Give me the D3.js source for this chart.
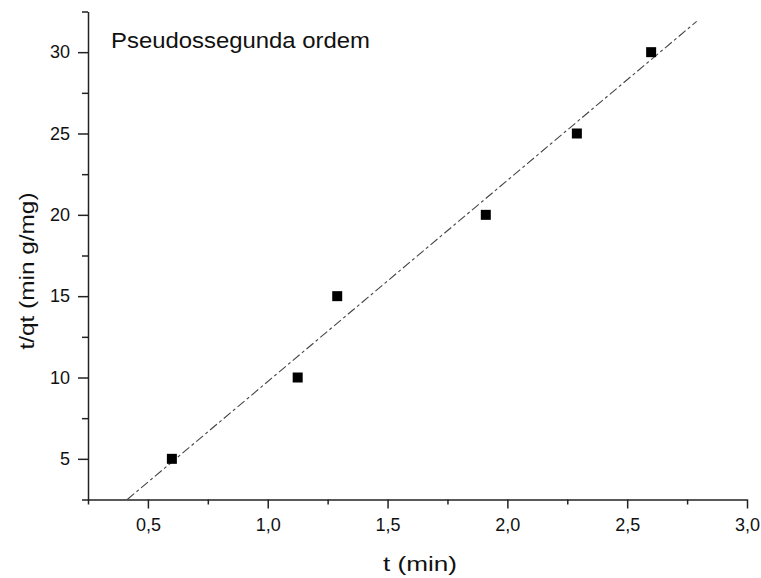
<!DOCTYPE html>
<html>
<head>
<meta charset="utf-8">
<script src="https://cdnjs.cloudflare.com/ajax/libs/d3/7.8.5/d3.min.js"></script>
<style>
  body { margin: 0; background: #fff; }
  text { font-family: "Liberation Sans", Arial, sans-serif; fill: #111; }
</style>
</head>
<body>
<div id="chart"></div>
<script>
// data
var tMin = [0.6, 1.125, 1.29, 1.91, 2.29, 2.6];
var tqt = [5, 10, 15, 20, 25, 30];
var xMajorTicks = [0.5, 1.0, 1.5, 2.0, 2.5, 3.0];
var xMinorTicks = [0.25, 0.75, 1.25, 1.75, 2.25, 2.75];
var yMajorTicks = [5, 10, 15, 20, 25, 30];
var yMinorTicks = [2.5, 7.5, 12.5, 17.5, 22.5, 27.5, 32.5];
var fitSlope = 12.37, fitIntercept = -2.62;
var fitRange = [0.414, 2.79];

// set the dimensions and margins of the graph
var margin = {top: 11.5, right: 14, bottom: 78.5, left: 88},
    width = 761 - margin.left - margin.right,
    height = 578 - margin.top - margin.bottom;

var svg = d3.select("#chart")
  .append("svg")
    .attr("width", 761)
    .attr("height", 578)
  .append("g")
    .attr("transform", "translate(" + margin.left + "," + margin.top + ")");

var x = d3.scaleLinear().domain([0.25, 3.0]).range([0, 659]);
var y = d3.scaleLinear().domain([2.5, 32.5]).range([height, 0]);

var commaFmt = function(d) { return d3.format(".1f")(d).replace(".", ","); };

// minor ticks first (no labels)
svg.append("g")
  .attr("transform", "translate(0," + height + ")")
  .call(d3.axisBottom(x).tickValues(xMinorTicks).tickSize(5).tickSizeOuter(0).tickFormat(""))
  .call(function(g) { g.select(".domain").remove(); });
svg.append("g")
  .call(d3.axisLeft(y).tickValues(yMinorTicks).tickSize(6).tickSizeOuter(0).tickFormat(""))
  .call(function(g) { g.select(".domain").remove(); });

// X axis
var xAxis = svg.append("g")
  .attr("transform", "translate(0," + height + ")")
  .call(d3.axisBottom(x).tickValues(xMajorTicks).tickSize(9).tickSizeOuter(0).tickPadding(10).tickFormat(commaFmt));
xAxis.selectAll("text").style("font-size", "18px").attr("fill", "#111");

// Y axis
var yAxis = svg.append("g")
  .call(d3.axisLeft(y).tickValues(yMajorTicks).tickSize(10).tickSizeOuter(0).tickPadding(8));
yAxis.selectAll("text").style("font-size", "18px").attr("fill", "#111");

svg.selectAll(".domain").attr("stroke", "#222").attr("stroke-width", 1.5);
svg.selectAll(".tick line").attr("stroke", "#222").attr("stroke-width", 1.5);

// fitted line
svg.append("line")
  .attr("x1", x(fitRange[0]))
  .attr("y1", y(fitSlope * fitRange[0] + fitIntercept))
  .attr("x2", x(fitRange[1]))
  .attr("y2", y(fitSlope * fitRange[1] + fitIntercept))
  .attr("stroke", "#444")
  .attr("stroke-width", 1.1)
  .attr("stroke-dasharray", "9,3,3,3");

// square markers
svg.append("g")
  .selectAll("rect")
  .data(tMin.map(function(d, i) { return {t: d, v: tqt[i]}; }))
  .enter()
  .append("rect")
    .attr("x", function(d) { return x(d.t) - 5; })
    .attr("y", function(d) { return y(d.v) - 5; })
    .attr("width", 10)
    .attr("height", 10)
    .attr("fill", "#000");

// title inside the plot
svg.append("text")
  .attr("x", 111 - margin.left)
  .attr("y", 47.5 - margin.top)
  .attr("textLength", 259)
  .attr("lengthAdjust", "spacingAndGlyphs")
  .style("font-size", "22px")
  .text("Pseudossegunda ordem");

// axis labels
svg.append("text")
  .attr("x", 420 - margin.left)
  .attr("y", 571 - margin.top)
  .attr("text-anchor", "middle")
  .attr("textLength", 74)
  .attr("lengthAdjust", "spacingAndGlyphs")
  .style("font-size", "20px")
  .text("t (min)");

svg.append("text")
  .attr("transform", "rotate(-90)")
  .attr("x", -(271 - margin.top))
  .attr("y", 34 - margin.left)
  .attr("text-anchor", "middle")
  .attr("textLength", 157)
  .attr("lengthAdjust", "spacingAndGlyphs")
  .style("font-size", "20px")
  .text("t/qt (min g/mg)");
</script>
</body>
</html>
